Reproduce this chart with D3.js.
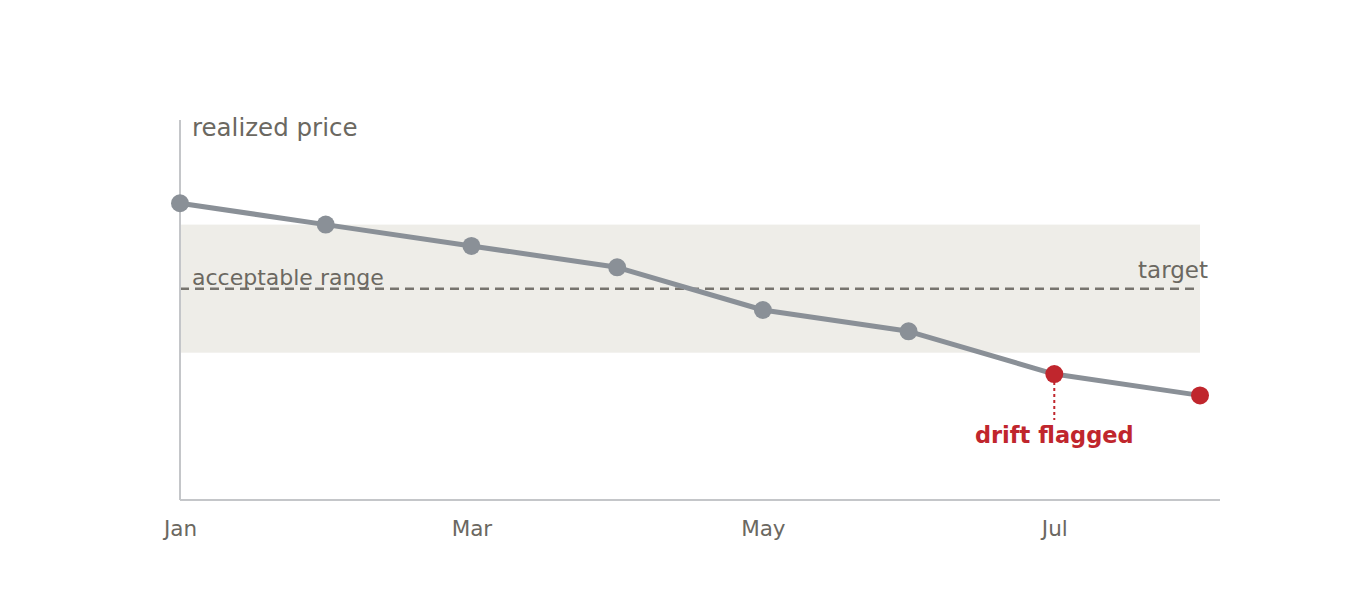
<!DOCTYPE html>
<html>
<head>
<meta charset="utf-8">
<script src="https://cdn.jsdelivr.net/npm/d3@7"></script>
<style>
  body { margin: 0; background: #fff; }
  svg text { font-family: "DejaVu Sans", sans-serif; }
</style>
</head>
<body>
<div id="chart"></div>
<script>
// data
var months = ["Jan", "Feb", "Mar", "Apr", "May", "Jun", "Jul", "Aug"];
var price = [104, 103, 102, 101, 99, 98, 96, 95];
var tickMonths = ["Jan", "Mar", "May", "Jul"];
var target = 100;
var bandRange = [97, 103];
var flagged = ["Jul", "Aug"];

var width = 1360, height = 600;
var margin = { left: 180, right: 160, top: 120, bottom: 100 };

var svg = d3.select("#chart").append("svg")
  .attr("width", width)
  .attr("height", height);

var x = d3.scalePoint()
  .domain(months)
  .range([margin.left, 1200]);

var y = d3.scaleLinear()
  .domain([90.1, 107.9])
  .range([height - margin.bottom, margin.top]);

var data = months.map(function (m, i) { return { m: m, v: price[i] }; });

// acceptable band
svg.append("rect")
  .attr("x", x(months[0]))
  .attr("y", y(bandRange[1]))
  .attr("width", x(months[months.length - 1]) - x(months[0]))
  .attr("height", y(bandRange[0]) - y(bandRange[1]))
  .attr("fill", "#eeede8");

// target line
svg.append("line")
  .attr("x1", x(months[0]))
  .attr("x2", x(months[months.length - 1]))
  .attr("y1", y(target))
  .attr("y2", y(target))
  .attr("stroke", "#77746e")
  .attr("stroke-width", 2.5)
  .attr("stroke-dasharray", "9,6");

// axes (plain lines, no y ticks)
svg.append("line")
  .attr("x1", margin.left).attr("x2", margin.left)
  .attr("y1", margin.top).attr("y2", height - margin.bottom)
  .attr("stroke", "#c4c6c9").attr("stroke-width", 2);

svg.append("line")
  .attr("x1", margin.left).attr("x2", 1220)
  .attr("y1", height - margin.bottom).attr("y2", height - margin.bottom)
  .attr("stroke", "#c4c6c9").attr("stroke-width", 2);

var xAxis = d3.axisBottom(x).tickValues(tickMonths).tickSize(0).tickPadding(0);
var gx = svg.append("g")
  .attr("transform", "translate(0," + (height - margin.bottom) + ")")
  .call(xAxis);
gx.select(".domain").remove();
gx.selectAll("text")
  .attr("y", 36)
  .attr("dy", 0)
  .attr("fill", "#6b6861")
  .style("font-size", "21.5px")
  .style("font-family", "DejaVu Sans, sans-serif");

// line
var line = d3.line()
  .x(function (d) { return x(d.m); })
  .y(function (d) { return y(d.v); });

svg.append("path")
  .datum(data)
  .attr("d", line)
  .attr("fill", "none")
  .attr("stroke", "#8a9097")
  .attr("stroke-width", 5)
  .attr("stroke-linejoin", "round");

// flag marker
var flagD = data[months.indexOf(flagged[0])];
svg.append("line")
  .attr("x1", x(flagD.m)).attr("x2", x(flagD.m))
  .attr("y1", y(flagD.v) + 8).attr("y2", 420)
  .attr("stroke", "#c0262d")
  .attr("stroke-width", 2)
  .attr("stroke-dasharray", "3,3");

svg.selectAll("circle")
  .data(data)
  .enter()
  .append("circle")
  .attr("cx", function (d) { return x(d.m); })
  .attr("cy", function (d) { return y(d.v); })
  .attr("r", 9)
  .attr("fill", function (d) { return flagged.indexOf(d.m) >= 0 ? "#c0262d" : "#8a9097"; });

// labels
svg.append("text")
  .attr("x", 192).attr("y", 136)
  .attr("fill", "#6b6861")
  .style("font-size", "24.5px")
  .text("realized price");

svg.append("text")
  .attr("x", 192).attr("y", y(target) - 4)
  .attr("fill", "#6b6861")
  .style("font-size", "22px")
  .text("acceptable range");

svg.append("text")
  .attr("x", 1208).attr("y", y(target) - 11)
  .attr("text-anchor", "end")
  .attr("fill", "#6b6861")
  .style("font-size", "23px")
  .text("target");

svg.append("text")
  .attr("x", x(flagD.m)).attr("y", 443)
  .attr("text-anchor", "middle")
  .attr("fill", "#c0262d")
  .style("font-size", "22.5px")
  .style("font-weight", "bold")
  .text("drift flagged");
</script>
</body>
</html>
